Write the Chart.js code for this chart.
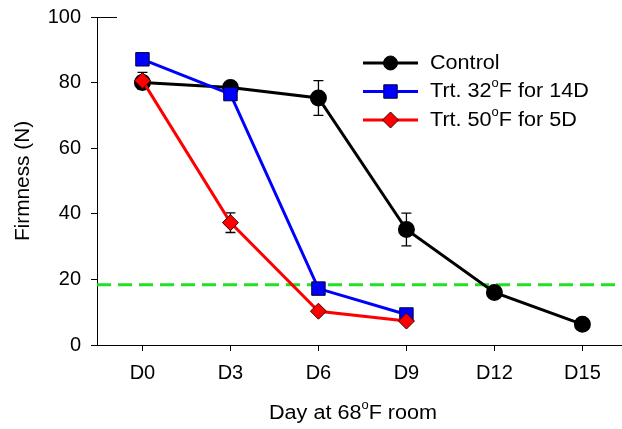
<!DOCTYPE html>
<html>
<head>
<meta charset="utf-8">
<script src="https://cdn.jsdelivr.net/npm/chart.js@4"></script>
<style>
  html, body { margin: 0; padding: 0; background: #fff; }
  #wrap { width: 622px; height: 429px; }
</style>
</head>
<body>
<div id="wrap"><canvas id="firmChart" width="622" height="429"></canvas></div>
<script>
const dayLabels = ['D0', 'D3', 'D6', 'D9', 'D12', 'D15'];
const dayValues = [0, 3, 6, 9, 12, 15];

const controlMean = [80, 78.5, 75.3, 35.2, 16, 6.3];
const controlErr = [2, 1, 5.3, 5, 0.6, 0.5];
const trt32Mean = [87.1, 76.5, 17.2, 9.3];
const trt32Err = [0, 0, 0, 0];
const trt50Mean = [80.6, 37.3, 10.3, 7.3];
const trt50Err = [2.5, 3, 0.5, 0.5];

const thresholdValue = 18.4;
const yTicks = [0, 20, 40, 60, 80, 100];

const seriesNames = ['Control', 'Trt. 32°F for 14D', 'Trt. 50°F for 5D'];
const xTitle = 'Day at 68°F room';
const yTitle = 'Firmness (N)';

const FONT = '"Liberation Sans", Arial, sans-serif';
const STRETCH = 1.08;

function toPoints(means) {
  return means.map((v, i) => ({ x: dayValues[i], y: v }));
}

// text with the degree sign drawn as a raised small "o"
function drawSupText(ctx, text, x, y, size, align, sx) {
  const parts = text.split('°');
  const supSize = Math.round(size * 0.62);
  let total = 0;
  parts.forEach((p, i) => {
    ctx.font = size + 'px ' + FONT;
    total += ctx.measureText(p).width;
    if (i < parts.length - 1) {
      ctx.font = supSize + 'px ' + FONT;
      total += ctx.measureText('o').width;
    }
  });
  ctx.save();
  ctx.translate(x, y);
  ctx.scale(sx || 1, 1);
  let cx = align === 'center' ? -total / 2 : 0;
  ctx.textAlign = 'left';
  ctx.textBaseline = 'middle';
  parts.forEach((p, i) => {
    ctx.font = size + 'px ' + FONT;
    ctx.fillText(p, cx, 0);
    cx += ctx.measureText(p).width;
    if (i < parts.length - 1) {
      ctx.font = supSize + 'px ' + FONT;
      ctx.fillText('o', cx, -size * 0.38);
      cx += ctx.measureText('o').width;
    }
  });
  ctx.restore();
}

function drawMarker(ctx, style, x, y, r, fill, stroke) {
  ctx.save();
  ctx.fillStyle = fill;
  ctx.strokeStyle = stroke;
  ctx.lineWidth = 1;
  ctx.beginPath();
  if (style === 'circle') {
    ctx.arc(x, y, r, 0, Math.PI * 2);
  } else if (style === 'rect') {
    const s = Math.SQRT1_2 * r;
    ctx.rect(x - s, y - s, 2 * s, 2 * s);
  } else {
    ctx.moveTo(x, y - r);
    ctx.lineTo(x + r, y);
    ctx.lineTo(x, y + r);
    ctx.lineTo(x - r, y);
    ctx.closePath();
  }
  ctx.fill();
  ctx.stroke();
  ctx.restore();
}

const errorSets = [controlErr, trt32Err, trt50Err];

const extrasPlugin = {
  id: 'extras',
  beforeDatasetsDraw(chart) {
    const ctx = chart.ctx;
    const xs = chart.scales.x, ys = chart.scales.y;
    const area = chart.chartArea;
    // reference line
    ctx.save();
    ctx.strokeStyle = '#22e022';
    ctx.lineWidth = 3;
    ctx.setLineDash([14, 7]);
    ctx.beginPath();
    const ty = ys.getPixelForValue(thresholdValue);
    ctx.moveTo(area.left, ty);
    ctx.lineTo(area.right, ty);
    ctx.stroke();
    ctx.restore();
    // short cap at the top of the y axis
    ctx.save();
    ctx.strokeStyle = '#000';
    ctx.lineWidth = 1;
    ctx.beginPath();
    ctx.moveTo(area.left, area.top + 0.5);
    ctx.lineTo(area.left + 20, area.top + 0.5);
    ctx.stroke();
    ctx.restore();
    // error bars
    ctx.save();
    ctx.strokeStyle = '#000';
    ctx.lineWidth = 1.3;
    chart.data.datasets.forEach((ds, di) => {
      const errs = errorSets[di];
      ds.data.forEach((p, i) => {
        const e = errs[i];
        if (!e) return;
        const px = xs.getPixelForValue(p.x);
        const top = ys.getPixelForValue(p.y + e);
        const bot = ys.getPixelForValue(p.y - e);
        ctx.beginPath();
        ctx.moveTo(px, top); ctx.lineTo(px, bot);
        ctx.moveTo(px - 5, top); ctx.lineTo(px + 5, top);
        ctx.moveTo(px - 5, bot); ctx.lineTo(px + 5, bot);
        ctx.stroke();
      });
    });
    ctx.restore();
  },
  afterDraw(chart) {
    const ctx = chart.ctx;
    const area = chart.chartArea;
    ctx.save();
    ctx.fillStyle = '#000';
    // legend
    chart.data.datasets.forEach((ds, i) => {
      const ly = area.top + 46 + i * 28.5;
      const lx = area.left + 266;
      ctx.strokeStyle = ds.borderColor;
      ctx.lineWidth = 3;
      ctx.beginPath();
      ctx.moveTo(lx, ly);
      ctx.lineTo(lx + 55, ly);
      ctx.stroke();
      drawMarker(ctx, ds.pointStyle, lx + 27.5, ly, ds.pointRadius, ds.pointBackgroundColor, ds.pointBorderColor);
      ctx.fillStyle = '#000';
      drawSupText(ctx, seriesNames[i], lx + 67, ly, 20, 'left', STRETCH);
    });
    // axis titles
    drawSupText(ctx, xTitle, area.left + 256, 413, 20, 'center', STRETCH);
    ctx.translate(23, (area.top + area.bottom) / 2);
    ctx.rotate(-Math.PI / 2);
    drawSupText(ctx, yTitle, 0, 0, 20, 'center', 1.04);
    ctx.restore();
  }
};

function noPadding(scale) {
  scale.paddingLeft = 0;
  scale.paddingRight = 0;
  scale.paddingTop = 0;
  scale.paddingBottom = 0;
}

new Chart(document.getElementById('firmChart'), {
  type: 'line',
  data: {
    datasets: [
      {
        label: seriesNames[0],
        data: toPoints(controlMean),
        borderColor: '#000000',
        borderWidth: 3,
        pointStyle: 'circle',
        pointRadius: 7,
        pointBackgroundColor: '#000000',
        pointBorderColor: '#000000',
        order: 3
      },
      {
        label: seriesNames[1],
        data: toPoints(trt32Mean),
        borderColor: '#0000ff',
        borderWidth: 3,
        pointStyle: 'rect',
        pointRadius: 9.5,
        pointBackgroundColor: '#0000ff',
        pointBorderColor: '#000033',
        pointBorderWidth: 1,
        order: 2
      },
      {
        label: seriesNames[2],
        data: toPoints(trt50Mean),
        borderColor: '#ff0000',
        borderWidth: 3,
        pointStyle: 'rectRot',
        pointRadius: 8,
        pointBackgroundColor: '#ff0000',
        pointBorderColor: '#330000',
        pointBorderWidth: 1,
        order: 1
      }
    ]
  },
  options: {
    responsive: false,
    animation: false,
    layout: { autoPadding: false, padding: { top: 17, right: 0, left: 0, bottom: 0 } },
    plugins: {
      legend: { display: false },
      tooltip: { enabled: false }
    },
    scales: {
      x: {
        type: 'linear',
        min: -1.55,
        max: 16.35,
        afterBuildTicks(scale) {
          scale.ticks = dayValues.map(v => ({ value: v }));
        },
        afterFit(scale) { scale.height = 84; noPadding(scale); },
        grid: { display: true, drawOnChartArea: false, drawTicks: true, tickLength: 6, color: '#000', lineWidth: 1 },
        border: { display: true, color: '#000', width: 1 },
        ticks: {
          color: '#000',
          padding: 10,
          maxRotation: 0,
          font: { family: FONT, size: 20 },
          callback: v => dayLabels[dayValues.indexOf(v)]
        }
      },
      y: {
        min: 0,
        max: 100,
        afterBuildTicks(scale) {
          scale.ticks = yTicks.map(v => ({ value: v }));
        },
        afterFit(scale) { scale.width = 97; noPadding(scale); },
        grid: { display: true, drawOnChartArea: false, drawTicks: true, tickLength: 6, color: '#000', lineWidth: 1 },
        border: { display: true, color: '#000', width: 1 },
        ticks: {
          color: '#000',
          padding: 10,
          font: { family: FONT, size: 20 }
        }
      }
    }
  },
  plugins: [extrasPlugin]
});
</script>
</body>
</html>
